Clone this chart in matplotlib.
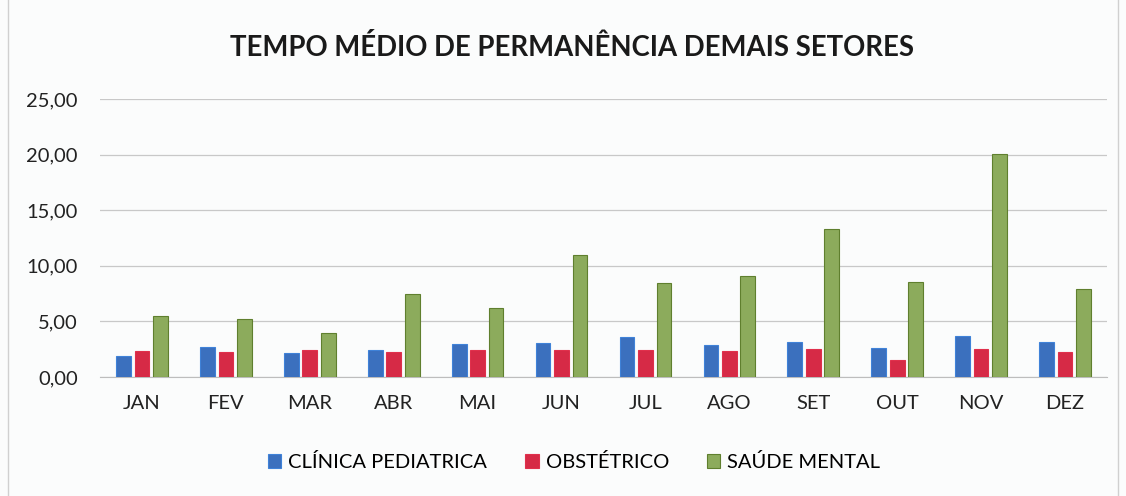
import numpy as np
import matplotlib
matplotlib.use('Agg')
import matplotlib.pyplot as plt
from matplotlib.ticker import FuncFormatter

# Data
months = ['JAN', 'FEV', 'MAR', 'ABR', 'MAI', 'JUN', 'JUL', 'AGO', 'SET', 'OUT', 'NOV', 'DEZ']
clinica_pediatrica = [1.86, 2.66, 2.16, 2.40, 2.99, 3.05, 3.56, 2.87, 3.11, 2.57, 3.65, 3.14]
obstetrico = [2.37, 2.25, 2.43, 2.25, 2.43, 2.43, 2.43, 2.34, 2.49, 1.53, 2.51, 2.25]
saude_mental = [5.45, 5.21, 3.98, 7.46, 6.17, 10.96, 8.47, 9.10, 13.32, 8.50, 20.03, 7.90]

series_names = ['CLÍNICA PEDIATRICA', 'OBSTÉTRICO', 'SAÚDE MENTAL']
colors = ['#3b70be', '#d62a46', '#8cab5c']
edges = ['#3f82d8', '#e0304c', '#5f7f2e']

plt.rcParams['font.family'] = ['Lato', 'DejaVu Sans']

fig = plt.figure(figsize=(11.26, 4.96), dpi=100, facecolor='#fbfcfc')
ax = fig.add_axes([100/1126, 1 - 377/496, (1107-100)/1126, (377-99)/496])
ax.set_facecolor('#fbfcfc')

x = np.arange(len(months))
width = 0.175
step = 0.22
for i, (vals, name) in enumerate(zip([clinica_pediatrica, obstetrico, saude_mental], series_names)):
    ax.bar(x + (i - 1) * step, vals, width, color=colors[i], edgecolor=edges[i],
           linewidth=0.8, label=name, zorder=3)

ax.set_xlim(-0.5, len(months) - 0.5)
ax.set_ylim(0, 25)
ax.set_yticks(np.arange(0, 26, 5))
ax.yaxis.set_major_formatter(FuncFormatter(lambda v, p: f'{v:.2f}'.replace('.', ',')))
ax.set_xticks(x)
ax.set_xticklabels(months)
ax.grid(axis='y', color='#c8c8c8', linewidth=0.9, zorder=0)
for s in ['top', 'right', 'left']:
    ax.spines[s].set_visible(False)
ax.spines['bottom'].set_color('#bdbdbd')
ax.tick_params(axis='both', length=0, labelsize=14.5, colors='#222222')
ax.tick_params(axis='x', pad=13)
ax.tick_params(axis='y', pad=16)

fig.text(0.508, 1 - 47/496, 'TEMPO MÉDIO DE PERMANÊNCIA DEMAIS SETORES', ha='center', va='center',
         fontsize=19.8, fontweight='bold', color='#1a1a1a')

fig.legend(loc='center', bbox_to_anchor=(0.51, 1 - 462/496), ncol=3, frameon=False,
           fontsize=14.5, handlelength=0.65, handleheight=0.65, handletextpad=0.35, columnspacing=1.9)

border = plt.Rectangle((8/1126, -2/496), 1 - 16/1126, 1 + 4/496, transform=fig.transFigure,
                       fill=False, edgecolor='#d0d0d0', linewidth=1)
fig.add_artist(border)

fig.savefig('out.png', dpi=100, facecolor=fig.get_facecolor())
